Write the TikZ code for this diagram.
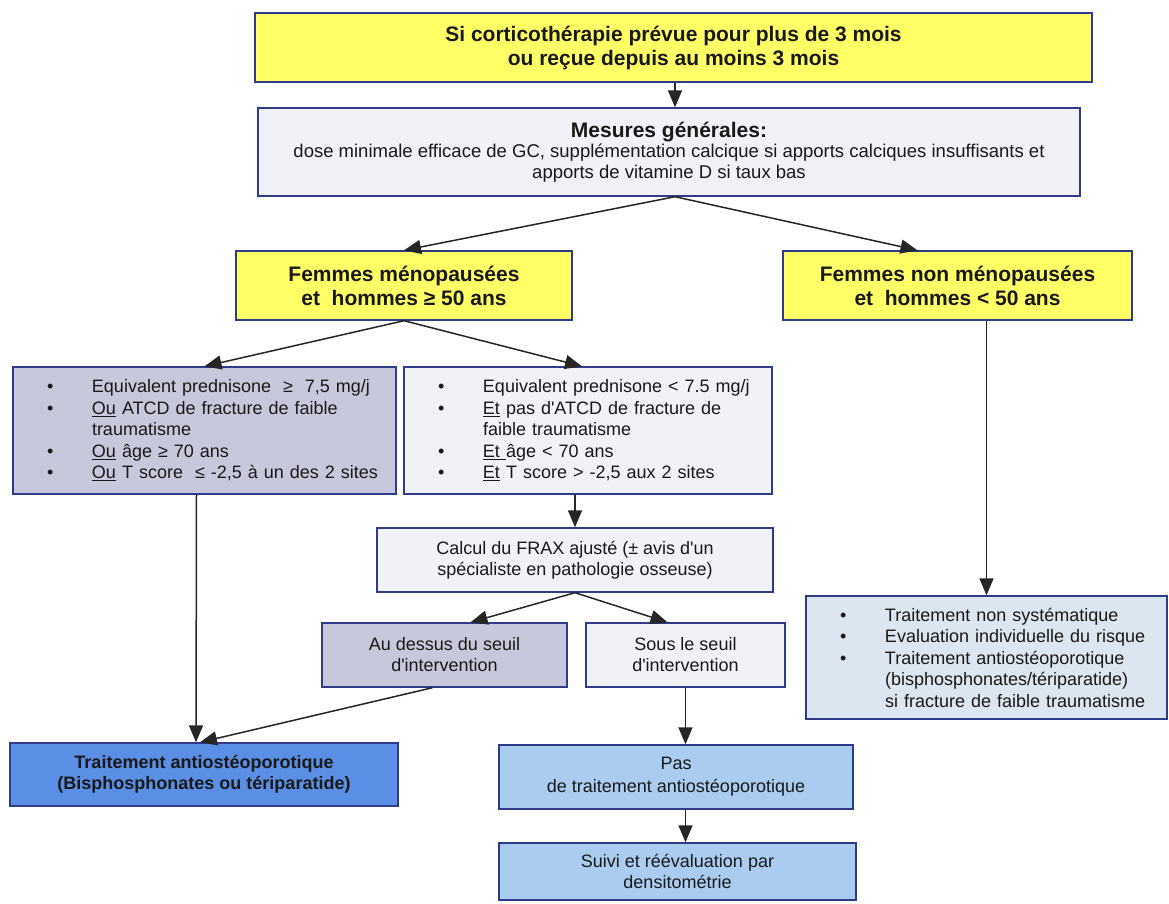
\documentclass[tikz,border=0pt]{standalone}
\usepackage{fontspec}
\setmainfont{Liberation Sans}
\usetikzlibrary{arrows.meta}
\definecolor{jaune}{HTML}{FFFF66}
\definecolor{cadre}{HTML}{303C8A}
\definecolor{mauve}{HTML}{C8C8DC}
\definecolor{pale}{HTML}{F0F2F8}
\definecolor{bleu}{HTML}{5B8EE5}
\definecolor{ciel}{HTML}{A9CCF0}
\definecolor{gris}{HTML}{DCE6F0}
\newcommand{\puce}{\hspace*{34pt}\makebox[45pt][l]{\textbullet}}
\newcommand{\suite}{\hspace*{79pt}}

\begin{document}
\begin{tikzpicture}[x=1pt,y=-1pt,
    box/.style={draw=cadre,line width=1.4pt,inner sep=0pt,align=center,text=black!90},
    liste/.style={box,align=left,font=\fontsize{18}{21.5}\selectfont},
    titre/.style={font=\fontsize{21}{24}\selectfont\bfseries},
    arr/.style={-{Triangle[length=17pt,width=14pt]},line width=1.5pt,black!85}]
\useasboundingbox (0,0) rectangle (1169,903);
\node[box,titre,fill=jaune,minimum width=837pt,minimum height=69pt] (top) at (673.5,47.5)
    {Si corticothérapie prévue pour plus de 3 mois\\ou reçue depuis au moins 3 mois};
\node[box,fill=pale,minimum width=822pt,minimum height=88pt,font=\fontsize{18.5}{20.5}\selectfont] (mes) at (669,152)
    {{\fontsize{21}{21}\selectfont\bfseries Mesures générales:}\\dose minimale efficace de GC, supplémentation calcique si apports calciques insuffisants et\\apports de vitamine D si taux bas};
\node[box,titre,fill=jaune,minimum width=336pt,minimum height=69pt] (meno) at (404,285.5)
    {Femmes ménopausées\\et\ \ hommes ≥ 50 ans};
\node[box,titre,fill=jaune,minimum width=349pt,minimum height=69pt] (nonmeno) at (957.5,285.5)
    {Femmes non ménopausées\\et\ \ hommes < 50 ans};
\node[liste,fill=mauve,text width=383pt,minimum height=127pt] (haut) at (204.5,430.5)
    {\puce Equivalent prednisone\ \ ≥\ \ 7,5 mg/j\\
     \puce\underline{Ou} ATCD de fracture de faible\\
     \suite traumatisme\\
     \puce\underline{Ou} âge ≥ 70 ans\\
     \puce\underline{Ou} T score\ \ ≤ -2,5 à un des 2 sites};
\node[liste,fill=pale,text width=368pt,minimum height=127pt] (bas) at (588,430.5)
    {\puce Equivalent prednisone < 7.5 mg/j\\
     \puce\underline{Et} pas d\textquotesingle ATCD de fracture de\\
     \suite faible traumatisme\\
     \puce\underline{Et\ }âge < 70 ans\\
     \puce\underline{Et} T score > -2,5 aux 2 sites};
\node[box,fill=pale,minimum width=396pt,minimum height=64pt,font=\fontsize{18}{20.5}\selectfont] (frax) at (575,560)
    {Calcul du FRAX ajusté (± avis d\textquotesingle un\\spécialiste en pathologie osseuse)};
\node[box,fill=mauve,minimum width=245pt,minimum height=64pt,font=\fontsize{18}{21}\selectfont] (dessus) at (444.5,655)
    {Au dessus du seuil\\d\textquotesingle intervention};
\node[box,fill=pale,minimum width=199pt,minimum height=64pt,font=\fontsize{18}{21}\selectfont] (sous) at (685.5,655)
    {Sous le seuil\\d\textquotesingle intervention};
\node[liste,fill=gris,text width=361pt,minimum height=123pt] (nonsyst) at (986.5,657.5)
    {\puce Traitement non systématique\\
     \puce Evaluation individuelle du risque\\
     \puce Traitement antiostéoporotique\\
     \suite (bisphosphonates/tériparatide)\\
     \suite si fracture de faible traumatisme};
\node[box,fill=bleu,minimum width=388pt,minimum height=63pt,font=\fontsize{18}{21}\selectfont\bfseries] (trait) at (204,774.5)
    {Traitement antiostéoporotique\\(Bisphosphonates ou tériparatide)};
\node[box,fill=ciel,minimum width=354pt,minimum height=64pt,font=\fontsize{18}{23}\selectfont] (pas) at (676,777)
    {Pas\\de traitement antiostéoporotique};
\node[box,fill=ciel,minimum width=357pt,minimum height=57pt,font=\fontsize{18}{21}\selectfont] (suivi) at (677.5,871.5)
    {Suivi et réévaluation par\\densitométrie};
% fleches
\draw[arr] ([xshift=1.5pt]top.south) -- ([xshift=1.5pt]top.south |- mes.north);
\draw[arr] ([xshift=6pt]mes.south) -- (meno.north);
\draw[arr] ([xshift=6pt]mes.south) -- ([xshift=-40pt]nonmeno.north);
\draw[arr] (meno.south) -- (haut.north);
\draw[arr] (meno.south) -- ([xshift=-6pt]bas.north);
\draw[arr] (bas.south -| frax.north) -- (frax.north);
\draw[arr] (frax.south) -- ([xshift=26pt]dessus.north);
\draw[arr] (frax.south) -- ([xshift=-18pt]sous.north);
\draw[arr] ([xshift=-8pt]haut.south) -- ([xshift=-8pt]trait.north);
\draw[arr] ([xshift=-12pt]dessus.south) -- ([xshift=-4pt]trait.north);
\draw[arr] (sous.south) -- (sous.south |- pas.north);
\draw[arr] (pas.south -| sous.south) -- (suivi.north -| sous.south);
\draw[arr] (nonmeno.south -| nonsyst.north) -- (nonsyst.north);
\end{tikzpicture}
\end{document}
